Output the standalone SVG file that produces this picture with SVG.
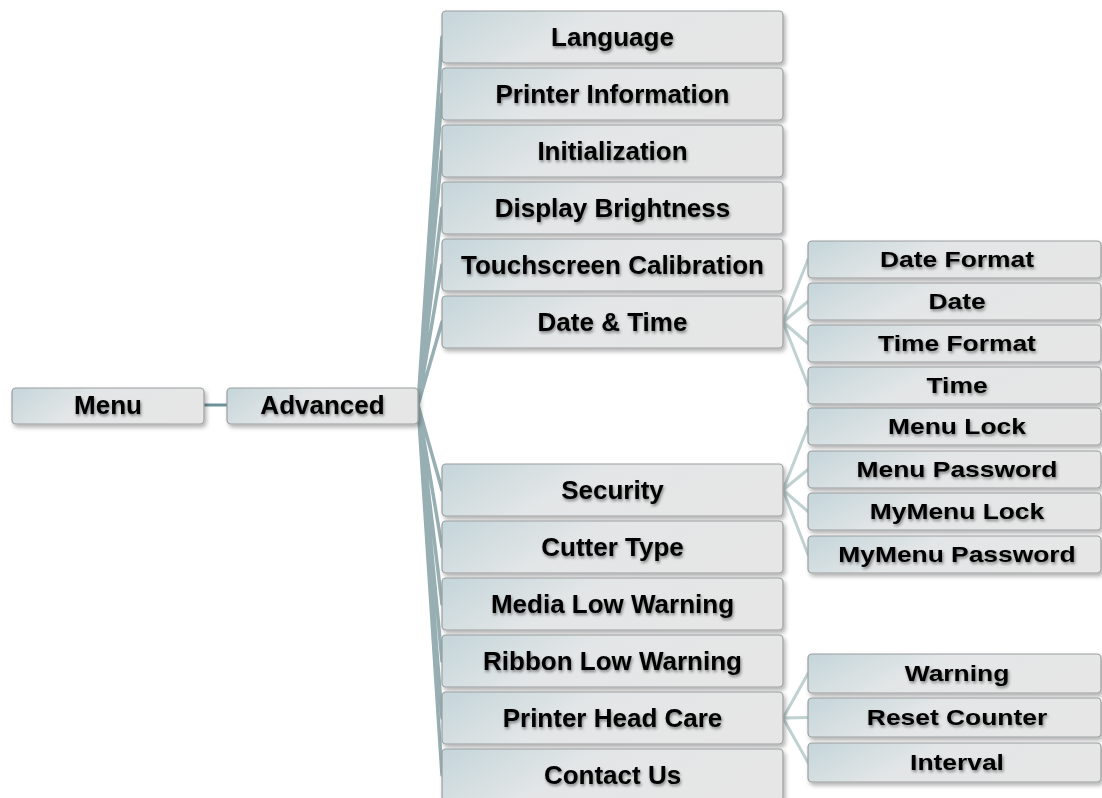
<svg xmlns="http://www.w3.org/2000/svg" width="1102" height="798" viewBox="0 0 1102 798">
<defs>
<linearGradient id="boxg" x1="0" y1="0" x2="1" y2="0.25">
<stop offset="0" stop-color="#c4d5da"/>
<stop offset="0.45" stop-color="#e3e6e7"/>
<stop offset="1" stop-color="#e6e6e6"/>
</linearGradient>
<filter id="bshadow" x="-10%" y="-20%" width="125%" height="160%">
<feDropShadow dx="2" dy="3" stdDeviation="2" flood-color="#000" flood-opacity="0.3"/>
</filter>
<filter id="tshadow" x="-10%" y="-30%" width="120%" height="170%">
<feDropShadow dx="1" dy="2" stdDeviation="1.5" flood-color="#000" flood-opacity="0.45"/>
</filter>
</defs>
<style>
.box{fill:url(#boxg);stroke:#9a9d9f;stroke-width:1.2;filter:url(#bshadow)}
.t{font-family:"Liberation Sans",Arial,sans-serif;font-weight:bold;font-size:26px;fill:#000;text-anchor:middle;filter:url(#tshadow)}
.t3{font-family:"Liberation Sans",Arial,sans-serif;font-weight:bold;font-size:22px;fill:#000;text-anchor:middle;filter:url(#tshadow)}
.c1{stroke:#6b9398;stroke-width:3;fill:none}
.c2{stroke:#97afb2;stroke-width:3.5;fill:none;stroke-linecap:round}
.c3{stroke:#c0d1d1;stroke-width:3;fill:none;stroke-linecap:round}
</style>
<rect width="1102" height="798" fill="#fff"/>
<g id="connectors">
<line class="c1" x1="204" y1="405" x2="227" y2="405"/>
<path class="c2" d="M418 405L442 37M418 405L442 94M418 405L442 151M418 405L442 208M418 405L442 265M418 405L442 322M418 405L442 490M418 405L442 547M418 405L442 604M418 405L442 661M418 405L442 718M418 405L442 775"/>
<path class="c3" d="M783 322L808 259.5M783 322L808 301.5M783 322L808 343.5M783 322L808 385.5"/>
<path class="c3" d="M783 490L808 426.5M783 490L808 469.5M783 490L808 511.5M783 490L808 554.5"/>
<path class="c3" d="M783 718L808 673.5M783 718L808 717.5M783 718L808 762.5"/>
</g>
<g id="menu"><rect class="box" x="12" y="388" width="192" height="36" rx="4"/><text class="t" x="108" y="414">Menu</text></g>
<g id="advanced"><rect class="box" x="227" y="388" width="191" height="36" rx="4"/><text class="t" x="322.5" y="414">Advanced</text></g>
<g id="language"><rect class="box" x="442" y="11" width="341" height="52" rx="4"/><text class="t" x="612.5" y="46">Language</text></g>
<g id="printer-information"><rect class="box" x="442" y="68" width="341" height="52" rx="4"/><text class="t" x="612.5" y="103">Printer Information</text></g>
<g id="initialization"><rect class="box" x="442" y="125" width="341" height="52" rx="4"/><text class="t" x="612.5" y="160">Initialization</text></g>
<g id="display-brightness"><rect class="box" x="442" y="182" width="341" height="52" rx="4"/><text class="t" x="612.5" y="217">Display Brightness</text></g>
<g id="touchscreen-calibration"><rect class="box" x="442" y="239" width="341" height="52" rx="4"/><text class="t" x="612.5" y="274">Touchscreen Calibration</text></g>
<g id="date-time"><rect class="box" x="442" y="296" width="341" height="52" rx="4"/><text class="t" x="612.5" y="331">Date &amp; Time</text></g>
<g id="security"><rect class="box" x="442" y="464" width="341" height="52" rx="4"/><text class="t" x="612.5" y="499">Security</text></g>
<g id="cutter-type"><rect class="box" x="442" y="521" width="341" height="52" rx="4"/><text class="t" x="612.5" y="556">Cutter Type</text></g>
<g id="media-low-warning"><rect class="box" x="442" y="578" width="341" height="52" rx="4"/><text class="t" x="612.5" y="613">Media Low Warning</text></g>
<g id="ribbon-low-warning"><rect class="box" x="442" y="635" width="341" height="52" rx="4"/><text class="t" x="612.5" y="670">Ribbon Low Warning</text></g>
<g id="printer-head-care"><rect class="box" x="442" y="692" width="341" height="52" rx="4"/><text class="t" x="612.5" y="727">Printer Head Care</text></g>
<g id="contact-us"><rect class="box" x="442" y="749" width="341" height="52" rx="4"/><text class="t" x="612.5" y="784">Contact Us</text></g>
<g id="date-format"><rect class="box" x="808" y="241" width="293" height="37" rx="4"/><text class="t3" transform="translate(957 267) scale(1.2 1)">Date Format</text></g>
<g id="date"><rect class="box" x="808" y="283" width="293" height="37" rx="4"/><text class="t3" transform="translate(957 309) scale(1.2 1)">Date</text></g>
<g id="time-format"><rect class="box" x="808" y="325" width="293" height="37" rx="4"/><text class="t3" transform="translate(957 351) scale(1.2 1)">Time Format</text></g>
<g id="time"><rect class="box" x="808" y="367" width="293" height="37" rx="4"/><text class="t3" transform="translate(957 393) scale(1.2 1)">Time</text></g>
<g id="menu-lock"><rect class="box" x="808" y="408" width="293" height="37" rx="4"/><text class="t3" transform="translate(957 434) scale(1.2 1)">Menu Lock</text></g>
<g id="menu-password"><rect class="box" x="808" y="451" width="293" height="37" rx="4"/><text class="t3" transform="translate(957 477) scale(1.2 1)">Menu Password</text></g>
<g id="mymenu-lock"><rect class="box" x="808" y="493" width="293" height="37" rx="4"/><text class="t3" transform="translate(957 519) scale(1.2 1)">MyMenu Lock</text></g>
<g id="mymenu-password"><rect class="box" x="808" y="536" width="293" height="37" rx="4"/><text class="t3" transform="translate(957 562) scale(1.2 1)">MyMenu Password</text></g>
<g id="warning"><rect class="box" x="808" y="654" width="293" height="39" rx="4"/><text class="t3" transform="translate(957 681) scale(1.2 1)">Warning</text></g>
<g id="reset-counter"><rect class="box" x="808" y="698" width="293" height="39" rx="4"/><text class="t3" transform="translate(957 725) scale(1.2 1)">Reset Counter</text></g>
<g id="interval"><rect class="box" x="808" y="743" width="293" height="39" rx="4"/><text class="t3" transform="translate(957 770) scale(1.2 1)">Interval</text></g>
</svg>
